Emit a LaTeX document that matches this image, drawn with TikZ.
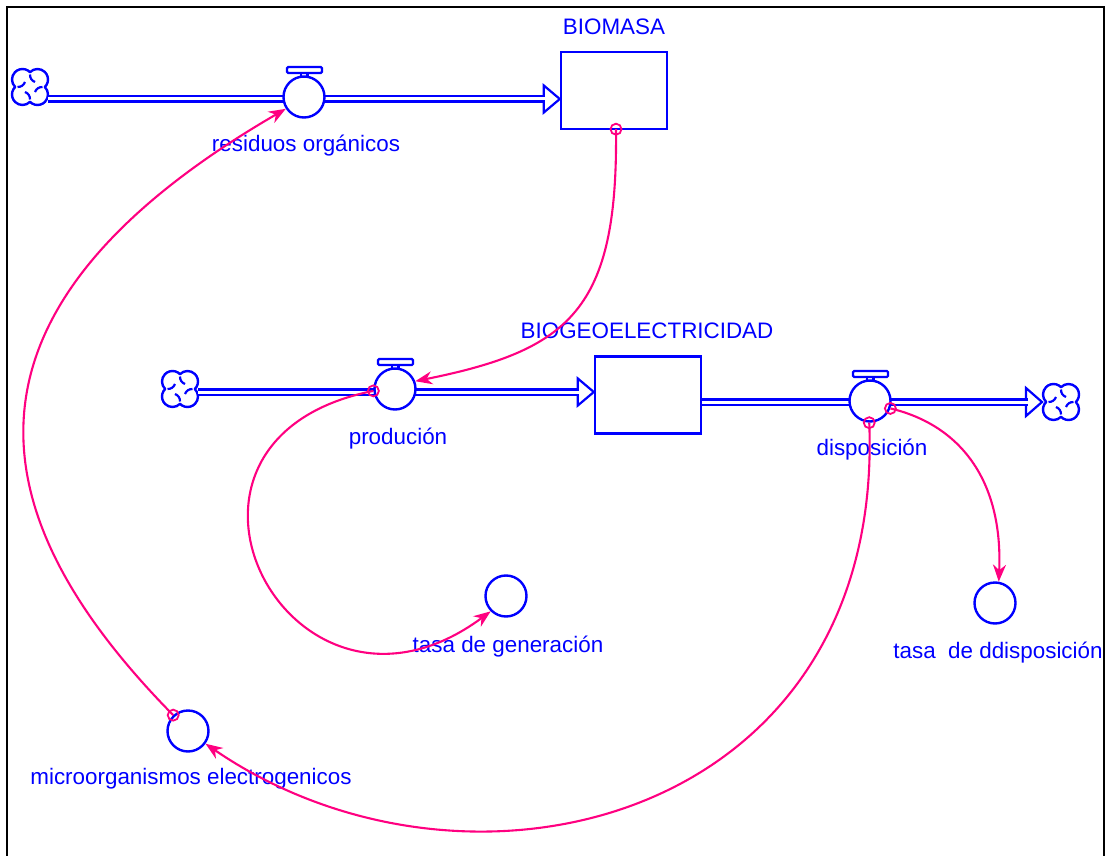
\documentclass[tikz,border=0pt]{standalone}
\usepackage{fontspec}
\setmainfont{Liberation Sans}
\usetikzlibrary{arrows.meta,calc}
\definecolor{vblue}{RGB}{0,0,255}
\definecolor{vpink}{RGB}{255,0,128}
\begin{document}
\begin{tikzpicture}[x=1pt,y=-1pt,
  lbl/.style={text=vblue,font=\fontsize{22.4}{26}\selectfont,inner sep=0pt,yshift=-2.5pt},
  stock/.style={draw=vblue,line width=2.4pt,minimum width=106pt,minimum height=77pt,inner sep=0pt},
  valve/.style={circle,draw=vblue,fill=white,line width=2.4pt,minimum size=41pt,inner sep=0pt},
  aux/.style={circle,draw=vblue,line width=2.4pt,minimum size=41pt,inner sep=0pt},
  pipe/.style={draw=vblue,double=white,double distance=3pt,line width=2.2pt},
  pipehead/.style={draw=vblue,fill=white,line width=2.2pt,line join=miter},
  link/.style={draw=vpink,line width=2.1pt,-{Stealth[length=17pt,width=13pt]}},
  tap/.style={circle,draw=vpink,line width=1.8pt,minimum size=11pt,inner sep=0pt},
  cloudpic/.pic={
    \draw[vblue,line width=2.4pt,line join=round]
      (14.85,0) arc[start angle=-45.6,end angle=135.6,radius=10.5]
      arc[start angle=44.4,end angle=225.6,radius=10.5]
      arc[start angle=134.4,end angle=315.6,radius=10.5]
      arc[start angle=224.4,end angle=405.6,radius=10.5] -- cycle;
    \foreach \a in {0,90,180,270}{
      \draw[vblue,line width=2.2pt,rotate=\a] (0,12.5) to[bend right=35] (-5,5);
    }
  },
  valvetop/.pic={
    \draw[vblue,line width=2.2pt,rounded corners=1.2pt] (-17,-30) rectangle (18,-24);
    \draw[vblue,line width=2.2pt] (-3,-24) rectangle (3.5,-20);
  }
]
\useasboundingbox (0,0) rectangle (1109,856);
\draw[black,line width=2.2pt] (7,856) -- (7,7) -- (1104,7) -- (1104,856);

% clouds
\coordinate (c1) at (30,87);
\coordinate (c2) at (180,389);
\coordinate (c3) at (1061,402);
\pic at (c1) {cloudpic};
\pic at (c2) {cloudpic};
\pic at (c3) {cloudpic};

% stocks
\node[stock] (biomasa) at (614,90.5) {};
\node[stock] (biogeo) at (648,395) {};
\node[lbl] (lbiomasa) at (614,24) {BIOMASA};
\node[lbl] (lbiogeo) at (647,328) {BIOGEOELECTRICIDAD};

% pipe 1
\coordinate (p1s) at ($(c1)+(18,12)$);
\coordinate (p1e) at (biomasa.west |- p1s);
\draw[pipehead] ($(p1e)+(-16,-13.5)$) -- (p1e) -- ($(p1e)+(-16,13.5)$) -- cycle;
\draw[pipe] (p1s) -- ($(p1e)+(-14.5,0)$);
% pipe 2
\coordinate (p2s) at ($(c2)+(18,3)$);
\coordinate (p2e) at (biogeo.west |- p2s);
\draw[pipehead] ($(p2e)+(-16,-13.5)$) -- (p2e) -- ($(p2e)+(-16,13.5)$) -- cycle;
\draw[pipe] (p2s) -- ($(p2e)+(-14.5,0)$);
% pipe 3
\coordinate (p3s) at (biogeo.east |- c3);
\coordinate (p3e) at ($(c3)+(-19,0)$);
\draw[pipehead] ($(p3e)+(-16,-14)$) -- (p3e) -- ($(p3e)+(-16,14)$) -- cycle;
\draw[pipe] (p3s) -- ($(p3e)+(-14.5,0)$);

% valves
\node[valve] (res) at (304,97) {};
\pic at (res) {valvetop};
\node[valve] (prod) at (395,389) {};
\pic at (prod) {valvetop};
\node[valve] (disp) at (870,401) {};
\pic at (disp) {valvetop};
\node[lbl] (lres) at (306,143) {residuos orgánicos};
\node[lbl] (lprod) at (398,436) {produción};
\node[lbl] (ldisp) at (872,447) {disposición};

% auxiliaries
\node[aux] (gen) at (506,596) {};
\node[aux] (ddisp) at (995,603) {};
\node[aux] (micro) at (188,731) {};
\node[lbl] (lgen) at (508,644) {tasa de generación};
\node[lbl] (lddisp) at (998,650) {tasa\ \ de ddisposición};
\node[lbl] (lmicro) at (191,776) {microorganismos electrogenicos};

% links
\coordinate (s1) at ($(biomasa.south)+(2,-1)$);
\draw[link] (s1) .. controls (618,310) and (570,350) .. (prod.21);
\node[tap] at (s1) {};

\draw[link] (prod.185) .. controls (125,440) and (290,760) .. (gen.225);
\node[tap] at (prod.185) {};

\draw[link] (disp.268) .. controls (885,820) and (470,925) .. (micro.-36);
\node[tap] at (disp.268) {};

\draw[link] (disp.-20) .. controls (960,425) and (1003,480) .. (ddisp.80);
\node[tap] at (disp.-20) {};

\draw[link] (micro.133) .. controls (-12,527) and (-75,318) .. (res.213);
\node[tap] at (micro.133) {};
\end{tikzpicture}
\end{document}
